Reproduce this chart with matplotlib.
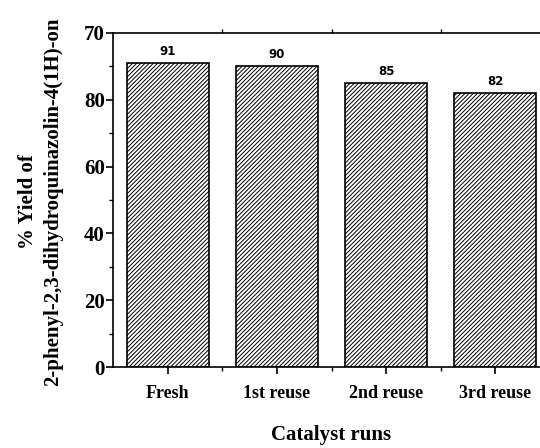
import matplotlib
matplotlib.use("Agg")
import matplotlib.pyplot as plt
import numpy as np

runs = ["Fresh", "1st reuse", "2nd reuse", "3rd reuse"]
yields = [91, 90, 85, 82]
ytick_vals = [0, 20, 40, 60, 80, 100]
ytick_text = ["0", "20", "40", "60", "80", "70"]  # top label reads 70 in the original

serif = "Liberation Serif"
plt.rcParams["hatch.linewidth"] = 0.7

fig = plt.figure(figsize=(5.4, 4.48), dpi=100)
# axes runs past the right edge of the picture, as in the original
ax = fig.add_axes([113 / 540, 81 / 448, 437 / 540, 334 / 448])

x = np.arange(len(runs))
bars = ax.bar(x, yields, width=0.75, facecolor="white", edgecolor="black",
              linewidth=1.2, hatch="////////")

for xi, v in zip(x, yields):
    ax.text(xi, v + 1.5, str(v), ha="center", va="bottom",
            fontsize=8.5, fontweight="bold", family="DejaVu Sans")

ax.set_xlim(-0.5, 3.5)
ax.set_ylim(0, 100)

ax.set_xticks(x)
ax.set_xticklabels(runs, fontsize=13, fontweight="bold", family=serif)
ax.set_xticks(x[:-1] + 0.5, minor=True)
ax.set_yticks(ytick_vals)
ax.set_yticklabels(ytick_text, fontsize=15, fontweight="bold", family=serif)
ax.set_yticks(np.arange(10, 100, 20), minor=True)

ax.tick_params(axis="both", which="major", direction="out", length=5, width=1.2, pad=1)
ax.tick_params(axis="x", which="major", pad=8)
ax.tick_params(axis="both", which="minor", direction="out", length=3, width=1.0)
ax.tick_params(axis="x", which="both", top=True)
ax.tick_params(axis="x", which="major", top=False)

for s in ax.spines.values():
    s.set_linewidth(1.2)

ax.set_ylabel("% Yield of\n2-phenyl-2,3-dihydroquinazolin-4(1H)-on",
              fontsize=15, fontweight="bold", family=serif,
              linespacing=1.35, va="center")
ax.yaxis.set_label_coords(-0.166, 0.495)
ax.set_xlabel("Catalyst runs", fontsize=15, fontweight="bold", family=serif,
              va="center")
ax.xaxis.set_label_coords(0.5, -0.205)

fig.savefig("out.png", dpi=100)
